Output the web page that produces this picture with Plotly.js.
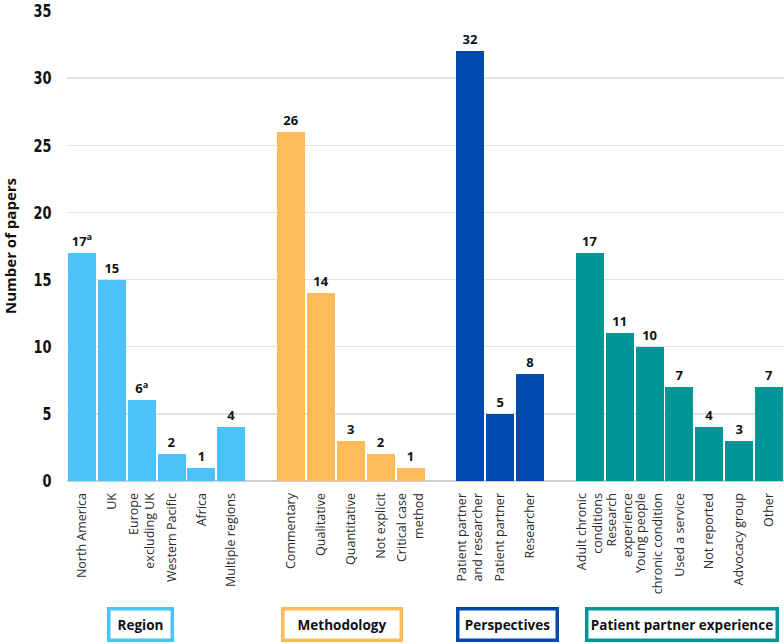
<!DOCTYPE html>
<html>
<head>
<meta charset="utf-8">
<script src="https://cdn.plot.ly/plotly-3.0.1.min.js"></script>
<style>
html,body{margin:0;padding:0;background:#fff;}
#chart{width:784px;height:644px;}
</style>
</head>
<body>
<div id="chart"></div>
<script>
// ---- data ----
var regionCats = ["North America", "UK", "Europe<br>excluding UK", "Western Pacific", "Africa", "Multiple regions"];
var regionVals = [17, 15, 6, 2, 1, 4];
var regionNotes = ["a", "", "a", "", "", ""];

var methodCats = ["Commentary", "Qualitative", "Quantitative", "Not explicit", "Critical case<br>method"];
var methodVals = [26, 14, 3, 2, 1];
var methodNotes = ["", "", "", "", ""];

var perspCats = ["Patient partner<br>and researcher", "Patient partner", "Researcher"];
var perspVals = [32, 5, 8];
var perspNotes = ["", "", ""];

var expCats = ["Adult chronic<br>conditions", "Research<br>experience", "Young people<br>chronic condition", "Used a service", "Not reported", "Advocacy group", "Other"];
var expVals = [17, 11, 10, 7, 4, 3, 7];
var expNotes = ["", "", "", "", "", "", ""];

var groupNames = ["Region", "Methodology", "Perspectives", "Patient partner experience"];
var yTicks = [0, 5, 10, 15, 20, 25, 30, 35];

// ---- build ----
var groups = [
  {cats: regionCats, vals: regionVals, notes: regionNotes, color: "#4BC3FA"},
  {cats: methodCats, vals: methodVals, notes: methodNotes, color: "#FDBB5A"},
  {cats: perspCats, vals: perspVals, notes: perspNotes, color: "#004AAD"},
  {cats: expCats, vals: expVals, notes: expNotes, color: "#009698"}
];
var boxShift = [-16, -9, 7, 3];
var boxWidth = [58, 113, 94, 185];

var traces = [], tickvals = [], ticktext = [], annotations = [];
var pos = 0;
groups.forEach(function (g, gi) {
  var xs = g.cats.map(function (c, i) { return pos + i; });
  traces.push({
    type: "bar",
    x: xs,
    y: g.vals,
    text: g.vals.map(function (v, i) { return g.notes[i] ? v + "<sup>" + g.notes[i] + "</sup>" : String(v); }),
    textposition: "outside",
    textfont: {family: "Open Sans, sans-serif", size: 13, color: "#111", weight: "bold"},
    cliponaxis: false,
    marker: {color: g.color, line: {color: "#ffffff", width: 0}},
    width: 0.935,
    hoverinfo: "none",
    showlegend: false
  });
  xs.forEach(function (x, i) { tickvals.push(x); ticktext.push(g.cats[i]); });
  var center = (xs[0] + xs[xs.length - 1]) / 2;
  annotations.push({
    x: center, xref: "x", xshift: boxShift[gi],
    y: -0.305, yref: "paper", yanchor: "middle", xanchor: "center",
    text: "<b>" + groupNames[gi] + "</b>",
    showarrow: false,
    font: {family: "Open Sans, sans-serif", size: 13.5, color: "#111"},
    bordercolor: g.color, borderwidth: 3.5, borderpad: 1,
    bgcolor: "#ffffff",
    width: boxWidth[gi], height: 26
  });
  pos += g.cats.length + 1;
});

var layout = {
  width: 784, height: 644,
  margin: {l: 67, r: 0, t: 11, b: 163},
  paper_bgcolor: "#ffffff", plot_bgcolor: "#ffffff",
  bargap: 0,
  xaxis: {
    range: [-0.5, pos - 1.5],
    tickmode: "array", tickvals: tickvals, ticktext: ticktext,
    tickangle: -90,
    tickfont: {family: "Open Sans, sans-serif", size: 12.5, color: "#2a2a2a"},
    showgrid: false, zeroline: false, showline: false,
    ticks: "outside", ticklen: 6, tickcolor: "rgba(0,0,0,0)",
    automargin: false, fixedrange: true
  },
  yaxis: {
    range: [0, 35],
    tickmode: "array", tickvals: yTicks,
    tickfont: {family: "'DejaVu Sans', sans-serif", size: 18, color: "#111", weight: "bold"},
    ticklabeloverflow: "allow",
    showgrid: true, gridcolor: "#e2e2e2", gridwidth: 1.5,
    zeroline: true, zerolinecolor: "#cfcfcf", zerolinewidth: 1.5,
    ticks: "outside", ticklen: 11, tickcolor: "rgba(0,0,0,0)",
    title: {text: "Number of papers", font: {family: "Open Sans, sans-serif", size: 15, color: "#111", weight: "bold"}, standoff: 12},
    automargin: false, fixedrange: true
  },
  annotations: annotations
};

Plotly.newPlot("chart", traces, layout, {displayModeBar: false, staticPlot: true}).then(function (gd) {
  // condense the y tick numerals to mimic the narrow display face
  var texts = gd.querySelectorAll(".ytick text");
  texts.forEach(function (t) {
    var len = t.getComputedTextLength();
    t.setAttribute("textLength", (len * 0.72).toFixed(1));
    t.setAttribute("lengthAdjust", "spacingAndGlyphs");
  });
});
</script>
</body>
</html>
